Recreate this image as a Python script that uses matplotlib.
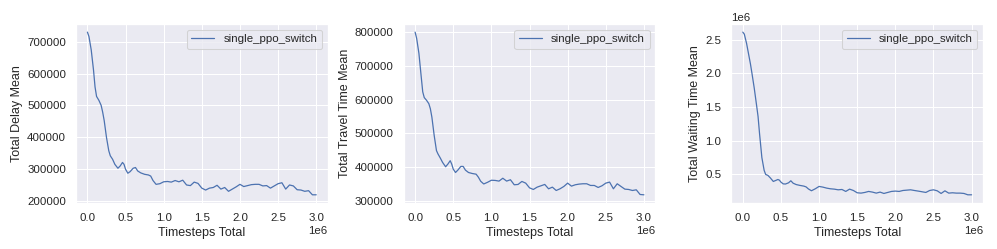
import numpy as np
import matplotlib
matplotlib.use("Agg")
import matplotlib.pyplot as plt
import seaborn as sns

# timesteps (in millions)
steps_m = [0.0, 0.02, 0.05, 0.08, 0.1, 0.12, 0.15, 0.18, 0.2, 0.22, 0.25, 0.28, 0.3,
           0.33, 0.36, 0.4, 0.43, 0.46, 0.48, 0.5, 0.53, 0.56, 0.6, 0.63, 0.66, 0.7,
           0.75, 0.8, 0.83, 0.86, 0.9, 0.95, 1.0, 1.05, 1.1, 1.15, 1.2, 1.25, 1.3,
           1.35, 1.4, 1.45, 1.5, 1.55, 1.6, 1.65, 1.7, 1.75, 1.8, 1.85, 1.9, 1.95,
           2.0, 2.05, 2.1, 2.15, 2.2, 2.25, 2.3, 2.35, 2.4, 2.45, 2.5, 2.55, 2.6,
           2.65, 2.7, 2.75, 2.8, 2.85, 2.9, 2.95, 3.0]

delay_mean = [730700, 717000, 674600, 611000, 558000, 528000, 516000, 500000, 478600,
              452000, 399000, 357000, 341000, 330000, 314000, 301700, 309000, 320000,
              314000, 298500, 286000, 291000, 301700, 304000, 293000, 287000, 282600,
              280500, 277000, 263000, 251000, 253000, 259000, 260000, 258000, 263000,
              259000, 264000, 249000, 247000, 258000, 254000, 239000, 233000, 239000,
              241000, 248000, 236000, 241000, 229000, 236000, 243000, 251000, 244000,
              247000, 250000, 251000, 251000, 246000, 247000, 239000, 246000, 253000,
              256000, 236000, 249000, 246000, 234000, 233000, 229000, 231000, 218000,
              218000]

travel_mean = [800000, 782000, 737000, 668000, 623000, 606000, 598000, 588000, 573000,
               548000, 494000, 449000, 439000, 427000, 414000, 401000, 409000, 419000,
               409000, 394000, 384000, 391000, 402000, 402000, 391000, 384000, 381000,
               379000, 370000, 358000, 350000, 355000, 361000, 360500, 358500, 367000,
               358500, 362500, 347600, 348600, 357500, 352500, 338600, 333700, 340600,
               344600, 348600, 335700, 340600, 330700, 335700, 342600, 352500, 343600,
               347600, 349600, 350600, 350600, 345600, 345600, 339700, 344600, 352500,
               355500, 335700, 350600, 342600, 334700, 333700, 330700, 332700, 318800,
               317900]

waiting_mean = [2610000, 2580000, 2440000, 2260000, 2140000, 2000000, 1780000, 1530000,
                1360000, 1100000, 750000, 560000, 500000, 485000, 450000, 396000, 410000,
                425000, 415000, 386000, 360000, 358000, 376000, 406000, 370000, 350000,
                337000, 327000, 315000, 285000, 258000, 287000, 322000, 312000, 297000,
                287000, 282000, 272000, 277000, 248000, 282000, 262000, 228000, 223000,
                233000, 248000, 238000, 223000, 238000, 218000, 233000, 248000, 253000,
                248000, 262000, 267000, 272000, 262000, 253000, 243000, 233000, 262000,
                272000, 257000, 218000, 257000, 223000, 228000, 223000, 223000, 218000,
                198000, 198000]

y_labels = ["Total Delay Mean", "Total Travel Time Mean", "Total Waiting Time Mean"]
series_name = "single_ppo_switch"

sns.set_theme()
plt.rcParams['font.family'] = ['Liberation Sans', 'DejaVu Sans']

steps = np.array(steps_m) * 1e6
panels = [delay_mean, travel_mean, waiting_mean]

dpi = 75
fig, axs = plt.subplots(1, 3, figsize=(997 / dpi, 249 / dpi), dpi=dpi)
fig.subplots_adjust(left=0.0762, right=0.986, bottom=0.185, top=0.9036, wspace=0.302)

for ax, values, ylab in zip(axs, panels, y_labels):
    ax.plot(steps, values, label=series_name, linewidth=1.2)
    ax.set_xlabel("Timesteps Total")
    ax.set_ylabel(ylab)
    ax.legend(loc="upper right")

plt.savefig("out.png", dpi=dpi)
